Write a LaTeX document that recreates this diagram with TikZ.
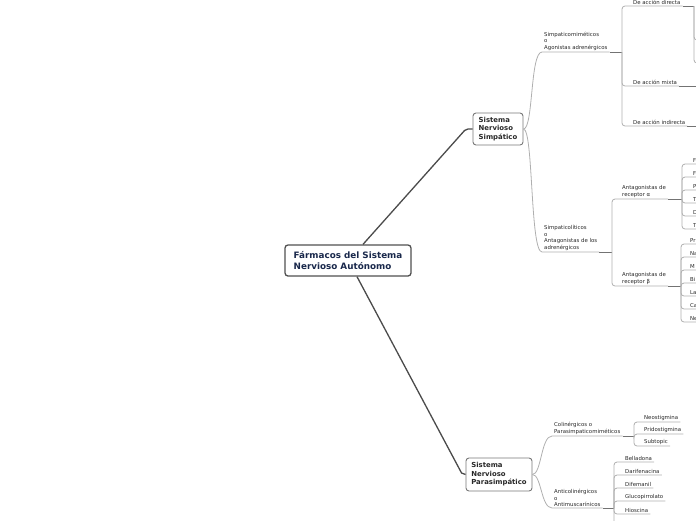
\documentclass[tikz,border=0pt]{standalone}
\usepackage{fontspec}
\setmainfont{DejaVu Sans}
\usetikzlibrary{calc}
\definecolor{NavyText}{RGB}{25,40,75}
\definecolor{BoxLine}{RGB}{80,80,80}
\definecolor{MainLine}{RGB}{120,120,120}
\definecolor{TrunkLine}{RGB}{75,75,75}
\definecolor{ThinLine}{RGB}{175,175,175}
\definecolor{StubLine}{RGB}{115,115,115}
\definecolor{TopicText}{RGB}{40,40,40}
\tikzset{
  rootbox/.style={draw=BoxLine,line width=1.3pt,rounded corners=3pt,fill=white,font=\fontsize{8.8}{11.5}\selectfont\bfseries,text=NavyText,align=left,minimum width=126pt,minimum height=31pt},
  mainbox/.style={draw=MainLine,line width=0.9pt,rounded corners=3pt,fill=white,font=\fontsize{6.9}{8.5}\selectfont\bfseries,text=TopicText,align=left,minimum height=32pt},
  topic/.style={anchor=south west,inner xsep=2pt,inner ysep=1.2pt,font=\fontsize{5.4}{6.5}\selectfont,text=TopicText,align=left},
  trunk/.style={draw=TrunkLine,line width=1.3pt},
  branch/.style={draw=ThinLine,line width=0.8pt},
  bracket/.style={draw=ThinLine,line width=0.8pt,rounded corners=3pt},
  stub/.style={draw=StubLine,line width=1pt}
}
\begin{document}
\begin{tikzpicture}[x=1pt,y=-1pt]
\useasboundingbox (0,0) rectangle (696,520);
\clip (0,0) rectangle (696,520);
% main topics
\node[rootbox] (rt) at (348,260.5) {Fármacos del Sistema\\Nervioso Autónomo};
\node[mainbox,minimum width=50pt] (ns) at (498,129) {Sistema\\Nervioso\\Simpático};
\node[mainbox,minimum width=66pt,minimum height=33pt] (np) at (499,474.5) {Sistema\\Nervioso\\Parasimpático};
\draw[trunk] ([xshift=15pt]rt.north) -- ([xshift=-8pt,yshift=-1.5pt]ns.west) to[out=45,in=180] (ns.west);
\draw[trunk] ([xshift=9pt]rt.south) -- ([xshift=-4pt,yshift=1.5pt]np.west) to[out=-45,in=180] (np.west);
% bracket points
\coordinate (bsm) at (622,52);
\coordinate (bsl) at (612,252);
\coordinate (bdir) at (694,6);
\coordinate (bal) at (682,199);
\coordinate (bbe) at (681,286);
\coordinate (bcol) at (634,436);
\coordinate (bant) at (614,508);
\coordinate (dira) at (700,40);
\coordinate (dirb) at (700,63);
\coordinate (emix) at (700,86);
\coordinate (eind) at (700,126);
\coordinate (antmore) at (640,527);
% simpatico
\node[topic] (smi) at (542,52) {Simpaticomiméticos\\o\\Agonistas adrenérgicos};
\node[topic] (sli) at (542,252) {Simpaticolíticos\\o\\Antagonistas de los\\adrenérgicos};
\draw[branch] (ns.east) .. controls +(10,0) and +(-12,0) .. (smi.south west) -- (smi.south east);
\draw[branch] (ns.east) .. controls +(10,0) and +(-12,0) .. (sli.south west) -- (sli.south east);
\draw[stub] (smi.south east) -- (bsm);
\draw[stub] (sli.south east) -- (bsl);
\node[topic] (dir) at (631,6) {De acción directa};
\node[topic] (mix) at (631,86) {De acción mixta};
\node[topic] (ind) at (631,126) {De acción indirecta};
\draw[bracket] (bsm) |- (dir.south west) -- (dir.south east);
\draw[bracket] (bsm) |- (mix.south west) -- (mix.south east);
\draw[bracket] (bsm) |- (ind.south west) -- (ind.south east);
\draw[stub] (dir.south east) -- (bdir);
\draw[bracket] (bdir) |- (dira);
\draw[bracket] (bdir) |- (dirb);
\draw[stub] (mix.south east) -- (emix);
\draw[stub] (ind.south east) -- (eind);
\node[topic] (aal) at (620,199) {Antagonistas de\\receptor α};
\node[topic] (abe) at (620,286) {Antagonistas de\\receptor β};
\draw[bracket] (bsl) |- (aal.south west) -- (aal.south east);
\draw[bracket] (bsl) |- (abe.south west) -- (abe.south east);
\draw[stub] (aal.south east) -- (bal);
\draw[stub] (abe.south east) -- (bbe);
\node[topic] (al1) at (691,164) {F};
\node[topic] (al2) at (691,177) {F};
\node[topic] (al3) at (691,190) {P};
\node[topic] (al4) at (691,203) {T};
\node[topic] (al5) at (691,216) {D};
\node[topic] (al6) at (691,229) {T};
\draw[bracket] (bal) |- (al1.south west) -- (al1.south east);
\draw[bracket] (bal) |- (al2.south west) -- (al2.south east);
\draw[bracket] (bal) |- (al3.south west) -- (al3.south east);
\draw[bracket] (bal) |- (al4.south west) -- (al4.south east);
\draw[bracket] (bal) |- (al5.south west) -- (al5.south east);
\draw[bracket] (bal) |- (al6.south west) -- (al6.south east);
\node[topic] (be1) at (688,244) {Pr};
\node[topic] (be2) at (688,257) {Na};
\node[topic] (be3) at (688,270) {M};
\node[topic] (be4) at (688,283) {Bi};
\node[topic] (be5) at (688,296) {La};
\node[topic] (be6) at (688,309) {Ca};
\node[topic] (be7) at (688,322) {Ne};
\draw[bracket] (bbe) |- (be1.south west) -- (be1.south east);
\draw[bracket] (bbe) |- (be2.south west) -- (be2.south east);
\draw[bracket] (bbe) |- (be3.south west) -- (be3.south east);
\draw[bracket] (bbe) |- (be4.south west) -- (be4.south east);
\draw[bracket] (bbe) |- (be5.south west) -- (be5.south east);
\draw[bracket] (bbe) |- (be6.south west) -- (be6.south east);
\draw[bracket] (bbe) |- (be7.south west) -- (be7.south east);
% parasimpatico
\node[topic] (col) at (552,436) {Colinérgicos o\\Parasimpaticomiméticos};
\node[topic] (ant) at (552,508) {Anticolinérgicos\\o\\Antimuscarínicos};
\draw[branch] (np.east) .. controls +(9,0) and +(-11,0) .. (col.south west) -- (col.south east);
\draw[branch] (np.east) .. controls +(9,0) and +(-11,0) .. (ant.south west) -- (ant.south east);
\draw[stub] (col.south east) -- (bcol);
\draw[stub] (ant.south east) -- (bant);
\node[topic] (neo) at (642,422) {Neostigmina};
\node[topic] (pir) at (642,434) {Pridostigmina};
\node[topic] (sub) at (642,446) {Subtopic};
\draw[bracket] (bcol) |- (neo.south west) -- (neo.south east);
\draw[bracket] (bcol) |- (pir.south west) -- (pir.south east);
\draw[bracket] (bcol) |- (sub.south west) -- (sub.south east);
\node[topic] (bel) at (623,462) {Belladona};
\node[topic] (dar) at (623,475) {Darifenacina};
\node[topic] (dif) at (623,488) {Difemanil};
\node[topic] (glu) at (623,501) {Glucopirrolato};
\node[topic] (hio) at (623,514) {Hioscina};
\draw[bracket] (bant) |- (bel.south west) -- (bel.south east);
\draw[bracket] (bant) |- (dar.south west) -- (dar.south east);
\draw[bracket] (bant) |- (dif.south west) -- (dif.south east);
\draw[bracket] (bant) |- (glu.south west) -- (glu.south east);
\draw[bracket] (bant) |- (hio.south west) -- (hio.south east);
\draw[bracket] (bant) |- (antmore);
\end{tikzpicture}
\end{document}
